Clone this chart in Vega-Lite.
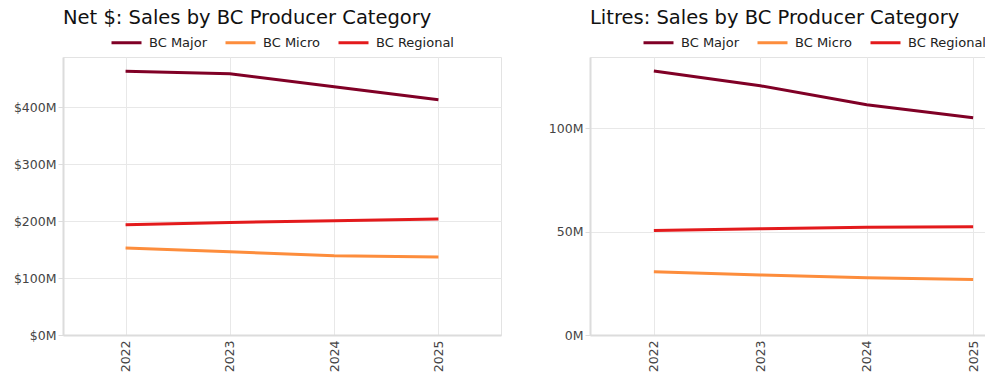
{
  "$schema": "https://vega.github.io/schema/vega-lite/v6.json",
  "padding": {"left": 12, "top": 7, "right": 5, "bottom": 5},
  "background": "white",
  "config": {
    "font": "DejaVu Sans",
    "view": {"stroke": "#e3e3e3", "strokeWidth": 1},
    "axis": {"labelFont": "DejaVu Sans", "labelFontSize": 12.5, "labelColor": "#444444", "gridColor": "#e8e8e8", "domainColor": "#dcdcdc", "domainWidth": 2, "tickColor": "#dcdcdc", "title": null},
    "title": {"fontSize": 19.5, "fontWeight": "normal", "anchor": "start", "frame": "group", "color": "#111111", "font": "DejaVu Sans", "offset": -2},
    "legend": {"orient": "top", "direction": "horizontal", "symbolType": "stroke", "symbolSize": 900, "symbolStrokeWidth": 3, "labelFontSize": 13, "labelColor": "#222222", "title": null, "columnPadding": 12, "labelOffset": 6, "offset": 7.5, "layout": {"top": {"anchor": "middle"}}},
    "concat": {"spacing": 45}
  },
  "datasets": {
    "sales": [
      {"year": 2022, "category": "BC Major", "net": 463, "litres": 127.6},
      {"year": 2023, "category": "BC Major", "net": 458.5, "litres": 120.5},
      {"year": 2024, "category": "BC Major", "net": 435.6, "litres": 111.3},
      {"year": 2025, "category": "BC Major", "net": 412.8, "litres": 105},
      {"year": 2022, "category": "BC Micro", "net": 152.6, "litres": 30.6},
      {"year": 2023, "category": "BC Micro", "net": 146.2, "litres": 29.0},
      {"year": 2024, "category": "BC Micro", "net": 139.2, "litres": 27.7},
      {"year": 2025, "category": "BC Micro", "net": 136.8, "litres": 26.8},
      {"year": 2022, "category": "BC Regional", "net": 193.5, "litres": 50.5},
      {"year": 2023, "category": "BC Regional", "net": 197.7, "litres": 51.4},
      {"year": 2024, "category": "BC Regional", "net": 200.6, "litres": 52.1},
      {"year": 2025, "category": "BC Regional", "net": 203.5, "litres": 52.3}
    ]
  },
  "hconcat": [
    {
      "width": 438, "height": 278,
      "title": "Net $: Sales by BC Producer Category",
      "data": {"name": "sales"},
      "mark": {"type": "line", "strokeWidth": 3},
      "encoding": {
        "x": {"field": "year", "type": "quantitative", "scale": {"domain": [2021.4, 2025.6], "nice": false, "zero": false}, "axis": {"values": [2022, 2023, 2024, 2025], "format": "d", "labelAngle": 270, "ticks": false, "labelPadding": 5}},
        "y": {"field": "net", "type": "quantitative", "scale": {"domain": [0, 488], "nice": false}, "axis": {"values": [0, 100, 200, 300, 400], "labelExpr": "'$' + datum.value + 'M'", "tickSize": 5}},
        "color": {"field": "category", "type": "nominal", "scale": {"domain": ["BC Major", "BC Micro", "BC Regional"], "range": ["#800026", "#fd8d3c", "#e31a1c"]}}
      }
    },
    {
      "width": 447, "height": 278,
      "title": "Litres: Sales by BC Producer Category",
      "data": {"name": "sales"},
      "mark": {"type": "line", "strokeWidth": 3},
      "encoding": {
        "x": {"field": "year", "type": "quantitative", "scale": {"domain": [2021.4, 2025.6], "nice": false, "zero": false}, "axis": {"values": [2022, 2023, 2024, 2025], "format": "d", "labelAngle": 270, "ticks": false, "labelPadding": 5}},
        "y": {"field": "litres", "type": "quantitative", "scale": {"domain": [0, 134.4], "nice": false}, "axis": {"values": [0, 50, 100], "labelExpr": "datum.value + 'M'", "tickSize": 5}},
        "color": {"field": "category", "type": "nominal", "scale": {"domain": ["BC Major", "BC Micro", "BC Regional"], "range": ["#800026", "#fd8d3c", "#e31a1c"]}}
      }
    }
  ],
  "resolve": {"scale": {"color": "independent", "y": "independent"}, "legend": {"color": "independent"}}
}
